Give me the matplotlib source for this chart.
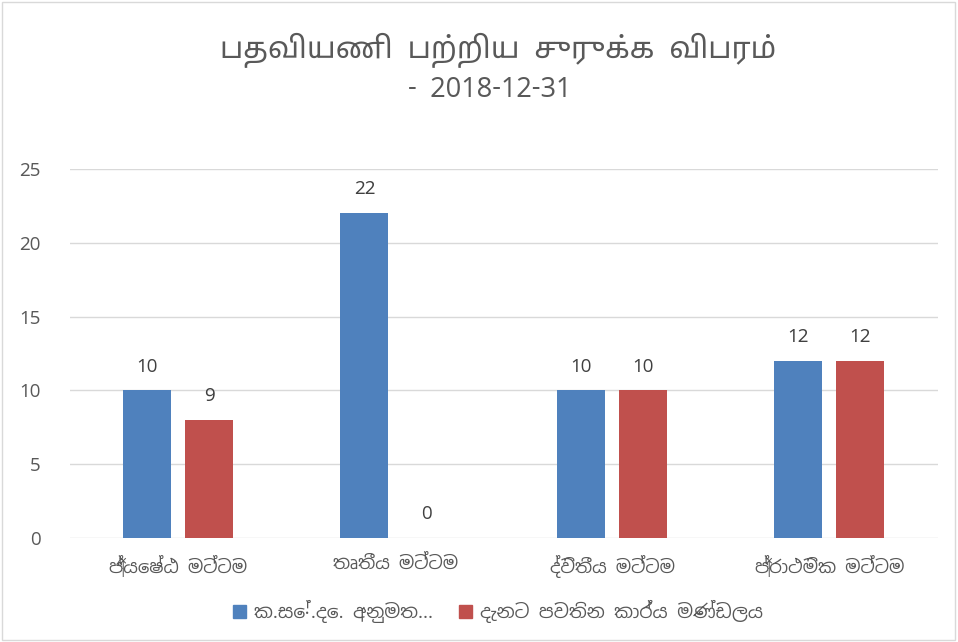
import numpy as np
import matplotlib
matplotlib.use('Agg')
import matplotlib.pyplot as plt
from matplotlib import font_manager
from matplotlib.patches import Rectangle

categories = ['ජ්‍යෙෂ්ඨ මට්ටම', 'තෘතීය මට්ටම', 'ද්විතීය මට්ටම', 'ප්‍රාථමික මට්ටම']
series_names = ['ක.සේ.දෙ. අනුමත...', 'දැනට පවතින කාර්ය මණ්ඩලය']
approved = [10, 22, 10, 12]
current = [8, 0, 10, 12]
approved_labels = ['10', '22', '10', '12']
current_labels = ['9', '0', '10', '12']
yticks = [0, 5, 10, 15, 20, 25]

# use whichever script fonts are around, falling back to DejaVu
installed = {f.name for f in font_manager.fontManager.ttflist}
wanted = ['Noto Sans Sinhala', 'Noto Sans Tamil', 'Iskoola Pota', 'Lohit Tamil',
          'Lohit Sinhala', 'Noto Sans', 'DejaVu Sans']
families = [f for f in wanted if f in installed] or ['DejaVu Sans']
plt.rcParams['font.family'] = families

blue = '#4F81BD'
red = '#C0504D'
txt = '#595959'

fig = plt.figure(figsize=(9.58, 6.42), dpi=100)
ax = fig.add_axes([0.073, 0.162, 0.906, 0.575])

x = np.arange(len(categories))
w = 0.221
off = 0.143
b1 = ax.bar(x - off, approved, w, color=blue, zorder=3)
b2 = ax.bar(x + off, current, w, color=red, zorder=3)

for bars, labs in ((b1, approved_labels), (b2, current_labels)):
    for rect, lab in zip(bars, labs):
        ax.text(rect.get_x() + rect.get_width() / 2, rect.get_height() + 1.0, lab,
                ha='center', va='bottom', fontsize=13.5, color='#404040')

ax.set_ylim(0, 25)
ax.set_xlim(-0.5, len(categories) - 0.5)
ax.set_yticks(yticks)
ax.set_xticks(x)
ax.set_xticklabels(categories)
ax.tick_params(axis='both', length=0, labelsize=13.5, colors=txt)
ax.tick_params(axis='x', labelsize=13, pad=12)
ax.tick_params(axis='y', pad=21)
ax.grid(axis='y', color='#D9D9D9', linewidth=1, zorder=0)
for s in ax.spines.values():
    s.set_visible(False)

fig.text(0.52, 0.922, 'பதவியணி பற்றிய சுருக்க விபரம்', ha='center', va='center',
         fontsize=21.5, color=txt)
fig.text(0.511, 0.860, '- 2018-12-31', ha='center', va='center', fontsize=19.5, color=txt)

handles = [Rectangle((0, 0), 1, 1, color=blue), Rectangle((0, 0), 1, 1, color=red)]
fig.legend(handles, series_names, loc='center', bbox_to_anchor=(0.52, 0.047), ncol=2,
           frameon=False, fontsize=13.5, labelcolor=txt, handlelength=0.7,
           handleheight=0.7, handletextpad=0.4, columnspacing=1.4)

fig.patches.append(Rectangle((0.002, 0.003), 0.995, 0.994, transform=fig.transFigure,
                             fill=False, edgecolor='#D9D9D9', linewidth=1))

plt.savefig('out.png', dpi=100)
